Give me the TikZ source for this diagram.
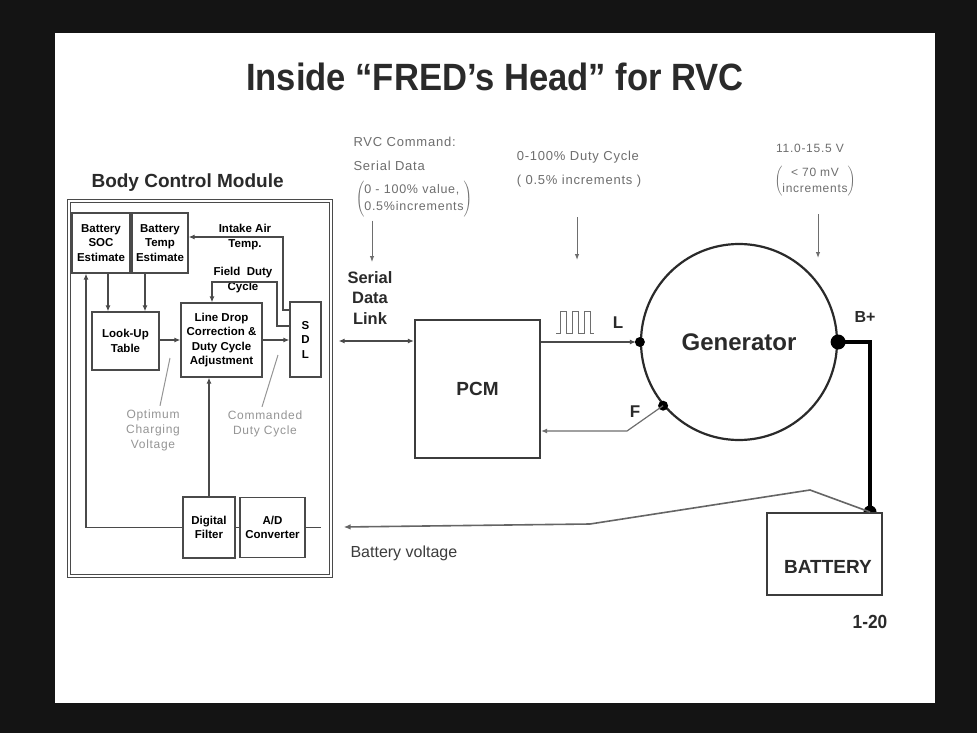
\documentclass[tikz,border=0pt]{standalone}
\usepackage{fontspec}
\setmainfont{Liberation Sans}
\usetikzlibrary{arrows.meta,positioning,calc}
\definecolor{SlideBlack}{HTML}{141414}
\definecolor{WireGray}{HTML}{4A4A4A}
\definecolor{UnitGray}{HTML}{3C3C3C}
\definecolor{NoteGray}{HTML}{6E6E6E}
\definecolor{LeadGray}{HTML}{959595}
\definecolor{InkDark}{HTML}{2A2A2A}
\newfontfamily\titlefont[FakeStretch=0.91]{Liberation Sans}
\newfontfamily\notefont[LetterSpace=6]{Liberation Sans}

\begin{document}
\begin{tikzpicture}[x=1pt,y=-1pt,
    blk/.style={
      draw=WireGray,
      fill=white,
      line width=1.2pt,
      inner sep=0pt,
      align=center,
      font=\bfseries\fontsize{11.5}{14.5}\selectfont
    },
    unit/.style={
      draw=UnitGray,
      fill=white,
      line width=2.2pt,
      inner sep=0pt
    },
    wire/.style={draw=WireGray, line width=1.2pt},
    flow/.style={wire, -{Latex[length=6pt,width=5pt]}},
    dual/.style={wire, {Latex[length=6pt,width=5pt]}-{Latex[length=6pt,width=5pt]}},
    cue/.style={draw=NoteGray, line width=1pt, -{Latex[length=6pt,width=4.5pt]}},
    lead/.style={draw=LeadGray, line width=1pt},
    note/.style={text=NoteGray, align=center, font=\notefont\fontsize{12.5}{16}\selectfont},
    remark/.style={text=LeadGray, align=center, font=\notefont\fontsize{12}{15}\selectfont},
    tag/.style={text=InkDark, font=\bfseries\fontsize{17}{20}\selectfont},
    tap/.style={circle, fill=black, inner sep=0pt, minimum size=#1}
  ]
    \useasboundingbox (0,0) rectangle (977,733);
    \fill[SlideBlack] (0,0) rectangle (977,733);
    \fill[white] (55,33) rectangle (935,703);

    \node[text=InkDark, font=\titlefont\bfseries\fontsize{38}{42}\selectfont] (title) at (495,77) {Inside “FRED’s Head” for RVC};

    \node[text=InkDark, font=\bfseries\fontsize{19}{22}\selectfont, anchor=west] (bcmlabel) at (88,183) {Body Control Module};
    \node[draw=WireGray, double, double distance=2.2pt, line width=1.2pt, minimum width=262, minimum height=375, inner sep=0pt] (bcm) at (200,388.5) {};

    \node[blk, minimum width=58, minimum height=60] (soc) at (101,243) {Battery\\SOC\\Estimate};
    \node[blk, minimum width=56, minimum height=60] (temp) at (160,243) {Battery\\Temp\\Estimate};
    \node[blk, minimum width=67, minimum height=58] (lut) at (125.5,341) {Look-Up\\Table};
    \node[blk, minimum width=81, minimum height=74] (ldc) at (221.5,340) {Line Drop\\Correction \&\\Duty Cycle\\Adjustment};
    \node[blk, minimum width=31, minimum height=75] (sdl) at (305.5,339.5) {S\\D\\L};
    \node[blk, minimum width=52, minimum height=61] (dfilt) at (209,527.5) {Digital\\Filter};
    \node[blk, minimum width=65, minimum height=60] (adc) at (272.5,527.5) {A/D\\Converter};

    \node[align=center, font=\bfseries\fontsize{11.5}{15}\selectfont] (iatlabel) at (245,237.5) {Intake Air\\Temp.};
    \node[align=center, font=\bfseries\fontsize{11.5}{15}\selectfont] (fdclabel) at (243,280.5) {Field\ \ Duty\\Cycle};
    \node[remark] (optlabel) at (153,430) {Optimum\\Charging\\Voltage};
    \node[remark] (cmdlabel) at (265,423.5) {Commanded\\Duty Cycle};
    \coordinate (optend) at (170,358);
    \coordinate (cmdend) at (278,355);

    \draw[flow] ([xshift=7pt]soc.south) -- ([xshift=7pt]soc.south |- lut.north);
    \draw[flow] ([xshift=-15pt]temp.south) -- ([xshift=-15pt]temp.south |- lut.north);
    \draw[flow] (ldc.west -| lut.east) -- (ldc.west);
    \draw[flow] (ldc.east) -- (ldc.east -| sdl.west);
    \draw[flow] (dfilt.north) -- (dfilt.north |- ldc.south);
    \draw[flow] (dfilt.west) -| ([xshift=-15pt]soc.south);
    \draw[wire] (dfilt.east) -- (adc.west);
    \draw[wire] (adc.east) -- ++(15,0);
    \draw[flow] (sdl.west |- 0,310) -- (283,310) -- (283,237) -- (temp.east |- 0,237);
    \draw[flow] (sdl.west |- 0,326) -- (277,326) -- (277,282) -| ([xshift=-9.5pt]ldc.north);
    \draw[lead] ([xshift=7pt]optlabel.north) -- (optend);
    \draw[lead] ([xshift=-3pt]cmdlabel.north) -- (cmdend);

    \node[note, align=left, anchor=west, font=\notefont\fontsize{13}{24}\selectfont] (rvclabel) at (350,154) {RVC Command:\\Serial Data};
    \node[note, font=\notefont\fontsize{12.5}{17}\selectfont] (rvcrange) at (414,199) {$\left(\begin{tabular}{@{}l@{}}0 - 100\% value,\\0.5\%increments\end{tabular}\right)$};
    \node[note, align=left, font=\notefont\fontsize{13}{24}\selectfont] (dutylabel) at (579,169) {0-100\% Duty Cycle\\( 0.5\% increments )};
    \node[note, font=\notefont\fontsize{12}{16}\selectfont] (voltlabel) at (810,148) {11.0-15.5 V};
    \node[note, font=\notefont\fontsize{12}{16}\selectfont] (voltrange) at (815,181) {$\left(\begin{tabular}{@{}c@{}}< 70 mV\\increments\end{tabular}\right)$};
    \coordinate (rvctip) at (372,262);
    \coordinate (dutytail) at (577,217);
    \coordinate (dutytip) at (577,260);
    \coordinate (volttail) at (818,214);
    \coordinate (volttip) at (818,258);
    \draw[cue] (rvcrange.south -| rvctip) -- (rvctip);
    \draw[cue] (dutytail) -- (dutytip);
    \draw[cue] (volttail) -- (volttip);

    \node[text=InkDark, align=center, font=\bfseries\fontsize{16.5}{20.5}\selectfont] (linklabel) at (370,298) {Serial\\Data\\Link};
    \node[unit, minimum width=125, minimum height=138, text=InkDark, font=\bfseries\fontsize{19}{22}\selectfont] (pcm) at (477.5,389) {PCM};
    \draw[dual] ([xshift=7pt]bcm.east |- 0,341) -- (pcm.west |- 0,341);

    \node[circle, draw=InkDark, line width=2.2pt, minimum size=196, inner sep=0pt, text=InkDark, font=\bfseries\fontsize{24}{28}\selectfont] (gen) at (739,342) {Generator};
    \draw[wire, line width=1.8pt, -{Latex[length=6pt,width=5pt]}, shorten >=4pt] (pcm.east |- gen.west) -- (gen.west);
    \draw[draw=NoteGray, line width=1pt] (556,333) -| (560,311) -| (566,333) -| (572,311) -| (578,333) -| (584,311) -| (590,333) -- (594,333);
    \node[tap=10pt] (ldot) at (gen.west) {};
    \node[tag] (llabel) at (618,323) {L};
    \node[tap=10pt] (fdot) at (gen.220) {};
    \node[tag] (flabel) at (635,412) {F};
    \draw[draw=NoteGray, line width=1.2pt, -{Latex[length=6pt,width=5pt]}] (fdot.center) -- (627,431) -- (pcm.east |- 0,431);
    \node[tap=15pt] (bdot) at (gen.east) {};
    \node[tag, font=\bfseries\fontsize{16}{19}\selectfont] (bplus) at (865,317) {B+};

    \node[tap=13pt] (batdot) at (870,512) {};
    \node[unit, minimum width=115, minimum height=82] (bat) at (824.5,554) {};
    \node[text=InkDark, font=\bfseries\fontsize{19}{22}\selectfont] (batlabel) at (828,567) {BATTERY};
    \draw[draw=black, line width=3.5pt] (bdot.center) -- (bdot.center -| batdot) -- (batdot.center);
    \draw[wire, draw=WireGray!85, line width=1.6pt, -{Latex[length=7pt,width=5.5pt]}] (batdot.center) -- (810,490) -- (590,524) -- ([xshift=12pt]bcm.east |- 0,527);
    \node[anchor=west, text=UnitGray, font=\fontsize{16}{19}\selectfont] (bvlabel) at (347,553) {Battery voltage};

    \node[text=InkDark, font=\titlefont\bfseries\fontsize{19}{22}\selectfont] (pagenum) at (870,622) {1-20};
  \end{tikzpicture}
\end{document}
